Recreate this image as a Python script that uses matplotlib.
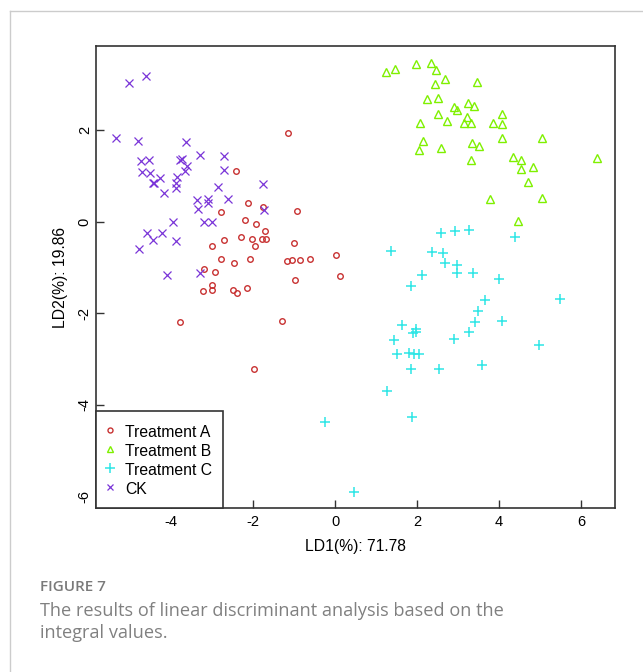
import matplotlib
matplotlib.use('Agg')
import matplotlib.pyplot as plt
from matplotlib.lines import Line2D

plt.rcParams['font.family'] = ['Liberation Sans', 'DejaVu Sans']

# LDA scores
ck_x = [-5.03, -4.61, -5.36, -4.81, -3.65, -3.31, -2.71, -2.72, -4.74, -4.54,
        -3.80, -3.75, -3.63, -4.71, -4.53, -3.66, -4.28, -3.86, -4.45, -3.88,
        -2.85, -1.76, -4.19, -3.89, -3.37, -3.11, -3.11, -3.36, -2.62, -1.75,
        -3.96, -3.21, -3.02, -4.59, -4.22, -4.46, -3.89, -4.79, -4.10, -3.31,
        -4.43]
ck_y = [3.04, 3.18, 1.83, 1.77, 1.74, 1.46, 1.43, 1.14, 1.33, 1.35,
        1.36, 1.38, 1.22, 1.09, 1.07, 1.10, 0.95, 0.98, 0.84, 0.85,
        0.77, 0.82, 0.62, 0.74, 0.47, 0.50, 0.40, 0.28, 0.50, 0.25,
        -0.01, -0.01, -0.01, -0.24, -0.25, -0.40, -0.43, -0.60, -1.16, -1.13,
        0.85]

a_x = [-2.43, -2.14, -1.76, -0.93, -2.79, -2.20, -1.94, -1.71, -1.78, -1.68,
       -2.29, -2.02, -1.96, -2.72, -3.00, -1.00, -2.80, -2.46, -2.09, -1.18,
       -1.05, -0.85, -0.61, 0.01, 0.12, -0.98, -3.20, -2.93, -3.24, -3.00,
       -3.00, -2.50, -2.40, -2.15, -3.78, -1.31, -1.99, -1.15]
a_y = [1.11, 0.40, 0.33, 0.23, 0.21, 0.04, -0.05, -0.21, -0.37, -0.38,
       -0.33, -0.38, -0.53, -0.40, -0.53, -0.46, -0.81, -0.89, -0.81, -0.85,
       -0.84, -0.84, -0.81, -0.72, -1.19, -1.27, -1.04, -1.10, -1.52, -1.39,
       -1.49, -1.48, -1.56, -1.45, -2.20, -2.16, -3.22, 1.95]

b_x = [1.24, 1.46, 1.98, 2.33, 2.45, 2.68, 2.43, 3.46, 2.24, 2.51,
       2.89, 2.97, 3.24, 3.39, 2.52, 2.06, 2.74, 3.21, 3.15, 3.31,
       4.08, 3.85, 4.06, 4.08, 5.04, 2.15, 2.04, 2.59, 3.35, 3.51,
       3.31, 4.33, 4.53, 4.54, 4.84, 4.71, 6.40, 3.78, 5.06, 4.46]
b_y = [3.27, 3.34, 3.44, 3.46, 3.31, 3.11, 3.02, 3.05, 2.69, 2.70,
       2.51, 2.44, 2.59, 2.54, 2.35, 2.16, 2.21, 2.29, 2.16, 2.16,
       2.35, 2.15, 2.13, 1.84, 1.84, 1.76, 1.57, 1.61, 1.71, 1.65,
       1.35, 1.42, 1.36, 1.16, 1.19, 0.87, 1.39, 0.50, 0.53, 0.02]

c_x = [2.59, 2.93, 3.26, 4.40, 1.36, 2.37, 2.64, 2.68, 2.98, 2.97,
       3.36, 2.11, 3.99, 1.86, 3.65, 5.49, 3.49, 3.41, 4.07, 3.26,
       2.89, 1.62, 1.96, 1.90, 1.98, 1.44, 1.52, 1.80, 2.04, 1.86,
       2.54, 3.59, 4.98, 1.26, 1.88, 0.45, -0.24, 1.92]
c_y = [-0.25, -0.21, -0.17, -0.33, -0.63, -0.65, -0.68, -0.90, -0.94, -1.13,
       -1.11, -1.17, -1.26, -1.40, -1.71, -1.69, -1.94, -2.19, -2.17, -2.41,
       -2.57, -2.26, -2.34, -2.44, -2.41, -2.58, -2.89, -2.87, -2.89, -3.22,
       -3.21, -3.14, -2.70, -3.69, -4.26, -5.90, -4.38, -2.89]

x_ticks = [-4, -2, 0, 2, 4, 6]
y_ticks = [-6, -4, -2, 0, 2]

fig = plt.figure(figsize=(6.43, 6.72), dpi=100)
ax = fig.add_axes([96 / 643, 1 - 508.3 / 672, 519 / 643, 462.3 / 672])

ax.plot(a_x, a_y, 'o', ms=4.0, mfc='none', mec='#C83232', mew=1.0, label='Treatment A')
ax.plot(b_x, b_y, '^', ms=5.5, mfc='none', mec='#7FF000', mew=1.0, label='Treatment B')
ax.plot(c_x, c_y, '+', ms=7.5, mec='#2EE6E6', mew=1.1, label='Treatment C')
ax.plot(ck_x, ck_y, 'x', ms=5.2, mec='#7A35D8', mew=0.9, label='CK')

ax.set_xlim(-5.84, 6.83)
ax.set_ylim(-6.26, 3.84)
ax.set_xticks(x_ticks)
ax.set_yticks(y_ticks)
ax.set_xticklabels([str(t) for t in x_ticks])
ax.set_yticklabels([str(t) for t in y_ticks], rotation=90, va='center')
ax.tick_params(direction='in', length=6, width=1.0, color='#333333',
               labelsize=10.5, labelcolor='black')
ax.tick_params(axis='x', pad=5)
ax.tick_params(axis='y', pad=3)
for s in ax.spines.values():
    s.set_color('#333333')
    s.set_linewidth(1.2)

ax.set_xlabel('LD1(%): 71.78', fontsize=11.3, va='center')
ax.xaxis.set_label_coords(0.5, -(546 - 508.3) / 462.3)
ax.set_ylabel('LD2(%): 19.86', fontsize=11.3, va='center')
ax.yaxis.set_label_coords(-(96 - 60) / 519, 0.5)

leg = ax.legend(loc='lower left', bbox_to_anchor=(0, 0), borderaxespad=0,
                fontsize=11.3, frameon=True, fancybox=False, framealpha=1,
                edgecolor='#333333', handlelength=0.3, handleheight=1.24,
                handletextpad=0.8, labelspacing=0.16, borderpad=0.74,
                markerscale=0.9)
leg.get_frame().set_linewidth(1.2)

# card border of the page
fig.add_artist(Line2D([10 / 643, 10 / 643], [0, 1 - 11 / 672], color='#cccccc', lw=1))
fig.add_artist(Line2D([10 / 643, 1], [1 - 11 / 672, 1 - 11 / 672], color='#cccccc', lw=1))

fig.text(40 / 643, 1 - 587 / 672, 'FIGURE 7', fontsize=11, color='#7a7a7a',
         family=['Open Sans', 'DejaVu Sans'], weight='semibold', va='center')
fig.text(40 / 643, 1 - 622 / 672,
         'The results of linear discriminant analysis based on the\nintegral values.',
         fontsize=13.1, color='#808080', family=['Open Sans', 'DejaVu Sans'],
         va='center', linespacing=1.35)

fig.savefig('out.png', dpi=100)
